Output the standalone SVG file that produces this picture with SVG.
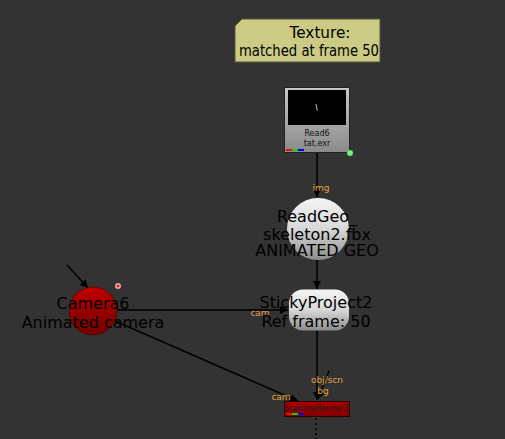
<svg xmlns="http://www.w3.org/2000/svg" width="505" height="439" viewBox="0 0 505 439">
<defs>
<style>
.lbl{font-family:"DejaVu Sans",sans-serif;font-size:16px;fill:#000;text-anchor:middle}
.small{font-family:"DejaVu Sans",sans-serif;font-size:8px;fill:#111;text-anchor:middle}
.port{font-family:"DejaVu Sans",sans-serif;font-size:9px;fill:#e8a040;text-anchor:middle}
.edge{stroke:#000;stroke-width:1.5;fill:none}
</style>
<marker id="ah" viewBox="0 0 10 10" refX="10" refY="5" markerWidth="8" markerHeight="8" markerUnits="userSpaceOnUse" orient="auto"><path d="M0,0 L10,5 L0,10 z" fill="#000"/></marker>
<linearGradient id="gw" x1="0" y1="0" x2="0" y2="1"><stop offset="0" stop-color="#f4f4f4"/><stop offset="0.5" stop-color="#d8d8d8"/><stop offset="1" stop-color="#8c8c8c"/></linearGradient>
<linearGradient id="gr" x1="0" y1="0" x2="0" y2="1"><stop offset="0" stop-color="#c00000"/><stop offset="1" stop-color="#700000"/></linearGradient>
<linearGradient id="gread" x1="0" y1="0" x2="0" y2="1"><stop offset="0" stop-color="#c8c8c8"/><stop offset="1" stop-color="#8a8a8a"/></linearGradient>
<linearGradient id="gsr" x1="0" y1="0" x2="0" y2="1"><stop offset="0" stop-color="#b00000"/><stop offset="1" stop-color="#800000"/></linearGradient>
</defs>
<rect width="505" height="439" fill="#333333"/>
<g id="connectors">
<line class="edge" x1="317" y1="152" x2="317" y2="197" marker-end="url(#ah)"/>
<line class="edge" x1="317" y1="260" x2="317" y2="289" marker-end="url(#ah)"/>
<line class="edge" x1="117" y1="310" x2="288" y2="310" marker-end="url(#ah)"/>
<line class="edge" x1="317" y1="331" x2="317" y2="400" marker-end="url(#ah)"/>
<line class="edge" x1="329" y1="371" x2="318" y2="399" marker-end="url(#ah)"/>
<line class="edge" x1="115" y1="321" x2="298" y2="401" marker-end="url(#ah)"/>
<line class="edge" x1="67" y1="265" x2="88" y2="288" marker-end="url(#ah)"/>
<line x1="316" y1="418" x2="316" y2="439" stroke="#000" stroke-width="1.5" stroke-dasharray="2,3"/>
<text class="port" x="321" y="191">img</text>
<text class="port" x="260" y="316">cam</text>
<text class="port" x="281" y="400">cam</text>
<text class="port" x="327" y="383">obj/scn</text>
<text class="port" x="323" y="394">bg</text>
</g>
<g id="sticky">
<path d="M242,19 L380,19 L380,62 L235,62 L235,26 z" fill="#cbcb84" stroke="#55553a" stroke-width="1"/>
<text class="lbl" x="320" y="38" textLength="61" lengthAdjust="spacingAndGlyphs">Texture:</text>
<text class="lbl" x="309" y="56" textLength="140" lengthAdjust="spacingAndGlyphs">matched at frame 50</text>
</g>
<g id="read6">
<rect x="284.5" y="87.5" width="65" height="65" fill="url(#gread)" stroke="#222" stroke-width="1"/>
<rect x="288" y="90" width="58" height="35" fill="#000"/>
<path d="M316,104 L317,110 L318,110" stroke="#bbb" stroke-width="1" fill="none"/>
<text class="small" x="317" y="136">Read6</text>
<text class="small" x="317" y="146">tat.exr</text>
<rect x="286" y="149" width="6" height="2" fill="#ff0000"/>
<rect x="292" y="149" width="6" height="2" fill="#00e000"/>
<rect x="298" y="149" width="6" height="2" fill="#0000ff"/>
<circle cx="350" cy="153" r="3" fill="#7cf07c" stroke="#40a040" stroke-width="0.5"/>
</g>
<g id="readgeo">
<ellipse cx="318" cy="229" rx="31" ry="31" fill="url(#gw)"/>
<text class="lbl" x="317" y="222">ReadGeo_</text>
<text class="lbl" x="317" y="240">skeleton2.fbx</text>
<text class="lbl" x="317" y="256">ANIMATED GEO</text>
</g>
<g id="camera6">
<circle cx="93" cy="311" r="24" fill="url(#gr)" stroke="#400000" stroke-width="0.5"/>
<text class="lbl" x="93" y="309">Camera6</text>
<text class="lbl" x="93" y="328">Animated camera</text>
<circle cx="118" cy="286" r="3" fill="#f0a0a0"/>
<circle cx="118" cy="286" r="1.3" fill="#c02020"/>
</g>
<g id="stickyproject">
<rect x="289" y="289.5" width="60" height="41" rx="14" ry="14" fill="url(#gw)"/>
<text class="lbl" x="316" y="308">StickyProject2</text>
<text class="lbl" x="316" y="327">Ref frame: 50</text>
</g>
<g id="scanline">
<rect x="284.5" y="401.5" width="65" height="15" fill="url(#gsr)" stroke="#300000" stroke-width="1"/>
<text class="small" x="316" y="411" style="font-size:9px;fill:#1a1a1a" textLength="64" lengthAdjust="spacingAndGlyphs">ScanlineRender3</text>
<rect x="286" y="413" width="6" height="2" fill="#ff0000"/>
<rect x="292" y="413" width="6" height="2" fill="#00e000"/>
<rect x="298" y="413" width="6" height="2" fill="#0000ff"/>
</g>
</svg>
